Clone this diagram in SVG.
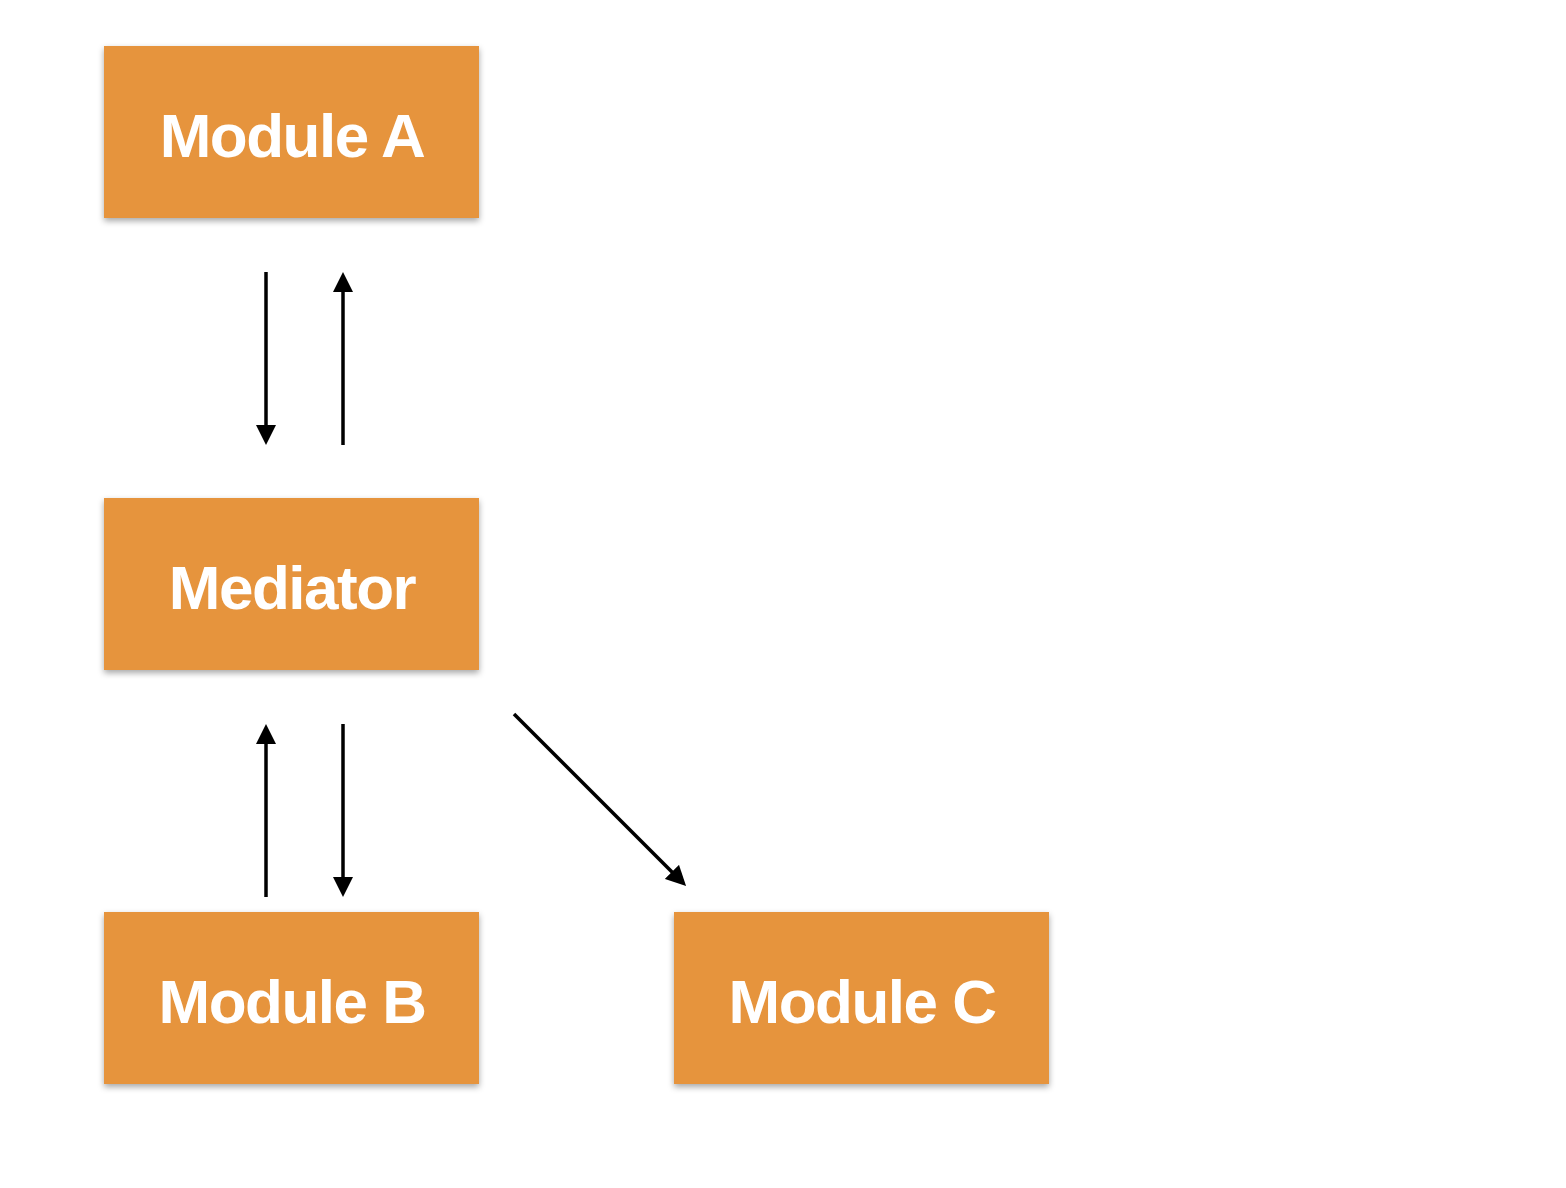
<svg xmlns="http://www.w3.org/2000/svg" width="1566" height="1188" viewBox="0 0 1566 1188">
<style>
.box{fill:#E6943C;filter:url(#sh)}
.lbl{font-family:"Liberation Sans",Arial,sans-serif;font-weight:bold;font-size:62px;fill:#fff;text-anchor:middle;letter-spacing:-1.5px}
.conn{stroke:#000;stroke-width:3.5;fill:none;marker-end:url(#ah)}
</style>
<defs>
<filter id="sh" x="-10%" y="-10%" width="120%" height="130%">
<feDropShadow dx="0" dy="3" stdDeviation="3" flood-color="#000" flood-opacity="0.35"/>
</filter>
<marker id="ah" viewBox="0 0 20 20" refX="10" refY="10" markerWidth="20" markerHeight="20" markerUnits="userSpaceOnUse" orient="auto">
<path d="M0,0 L20,10 L0,20 Z" fill="#000"/>
</marker>
</defs>
<rect width="1566" height="1188" fill="#fff"/>
<g id="moduleA"><rect class="box" x="104" y="46" width="375" height="172"/><text class="lbl" x="292" y="157">Module A</text></g>
<g id="mediator"><rect class="box" x="104" y="498" width="375" height="172"/><text class="lbl" x="292" y="609">Mediator</text></g>
<g id="moduleB"><rect class="box" x="104" y="912" width="375" height="172"/><text class="lbl" x="292" y="1023">Module B</text></g>
<g id="moduleC"><rect class="box" x="674" y="912" width="375" height="172"/><text class="lbl" x="862" y="1023">Module C</text></g>
<g id="connectors">
<line class="conn" x1="266" y1="272" x2="266" y2="435"/>
<line class="conn" x1="343" y1="445" x2="343" y2="282"/>
<line class="conn" x1="266" y1="897" x2="266" y2="734"/>
<line class="conn" x1="343" y1="724" x2="343" y2="887"/>
<line class="conn" x1="514" y1="714" x2="679" y2="879"/>
</g>
</svg>
